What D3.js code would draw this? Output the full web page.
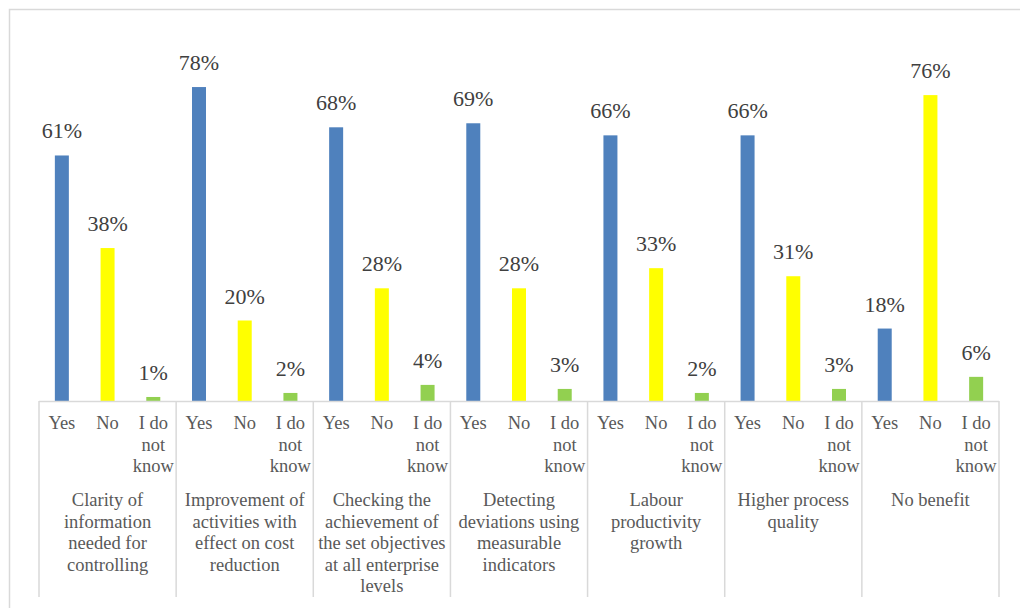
<!DOCTYPE html>
<html>
<head>
<meta charset="utf-8">
<script src="https://cdn.jsdelivr.net/npm/d3@7"></script>
</head>
<body style="margin:0; background:#fff">
<script>
// groups (outer axis level), wrapped as in the original
const groups = ['g1', 'g2', 'g3', 'g4', 'g5', 'g6', 'g7'];
const groupLabels = [
  ['Clarity of', 'information', 'needed for', 'controlling'],
  ['Improvement of', 'activities with', 'effect on cost', 'reduction'],
  ['Checking the', 'achievement of', 'the set objectives', 'at all enterprise', 'levels'],
  ['Detecting', 'deviations using', 'measurable', 'indicators'],
  ['Labour', 'productivity', 'growth'],
  ['Higher process', 'quality'],
  ['No benefit']
];
const series = ['Yes', 'No', 'IDK'];
const seriesLabels = [['Yes'], ['No'], ['I do', 'not', 'know']];
const colors = ['#4f81bd', '#ffff00', '#92d050'];

const yesValues = [61, 78, 68, 69, 66, 66, 18];
const noValues = [38, 20, 28, 28, 33, 31, 76];
const idkValues = [1, 2, 4, 3, 2, 3, 6];
const allValues = [yesValues, noValues, idkValues];

const width = 1020, height = 608;
const margin = {left: 39, right: 21, baseline: 401};
const FONT = '"Liberation Serif", "Times New Roman", Times';
const TEXT = '#595959';

const svg = d3.select('body').append('svg')
  .attr('width', width)
  .attr('height', height)
  .attr('font-family', FONT);

// outer chart frame
svg.append('rect')
  .attr('x', 9.5).attr('y', 9.5)
  .attr('width', 1030).attr('height', 620)
  .attr('fill', 'none')
  .attr('stroke', '#d9d9d9')
  .attr('stroke-width', 1.5);

const x0 = d3.scaleBand()
  .domain(groups)
  .range([margin.left, width - margin.right])
  .padding(0);

const x1 = d3.scaleBand()
  .domain(series)
  .range([0, x0.bandwidth()])
  .padding(0);

const y = d3.scaleLinear()
  .domain([0, 80])
  .range([margin.baseline, margin.baseline - 80 * 4.025]);

const barW = 14;

const data = [];
groups.forEach((g, gi) => {
  series.forEach((s, si) => {
    data.push({group: g, series: s, si: si, value: allValues[si][gi]});
  });
});

svg.selectAll('.bar')
  .data(data)
  .enter().append('rect')
  .attr('class', 'bar')
  .attr('x', d => x0(d.group) + x1(d.series) + (x1.bandwidth() - barW) / 2)
  .attr('width', barW)
  .attr('y', d => y(d.value))
  .attr('height', d => y(0) - y(d.value))
  .attr('fill', d => colors[d.si]);

svg.selectAll('.val')
  .data(data)
  .enter().append('text')
  .attr('class', 'val')
  .attr('x', d => x0(d.group) + x1(d.series) + x1.bandwidth() / 2)
  .attr('y', d => y(d.value) - 17)
  .attr('text-anchor', 'middle')
  .attr('font-family', FONT)
  .attr('fill', '#404040')
  .attr('font-size', 22)
  .text(d => d.value + '%');

// axis line and group dividers
svg.append('line')
  .attr('x1', x0.range()[0]).attr('x2', x0.range()[1])
  .attr('y1', y(0) + 0.5).attr('y2', y(0) + 0.5)
  .attr('stroke', '#d9d9d9').attr('stroke-width', 1.5);

const dividers = groups.map(g => x0(g)).concat([x0.range()[1]]);
svg.selectAll('.div')
  .data(dividers)
  .enter().append('line')
  .attr('class', 'div')
  .attr('x1', d => d).attr('x2', d => d)
  .attr('y1', y(0)).attr('y2', 597)
  .attr('stroke', '#d9d9d9').attr('stroke-width', 1.5);

// series labels, one text per line
const lh = 21.5;
const seriesLines = [];
groups.forEach(g => {
  series.forEach((s, si) => {
    seriesLabels[si].forEach((line, li) => {
      seriesLines.push({cx: x0(g) + x1(s) + x1.bandwidth() / 2, y: 429 + li * lh, text: line});
    });
  });
});
svg.selectAll('.slab')
  .data(seriesLines)
  .enter().append('text')
  .attr('class', 'slab')
  .attr('x', d => d.cx)
  .attr('y', d => d.y)
  .attr('text-anchor', 'middle')
  .attr('font-family', FONT)
  .attr('fill', TEXT)
  .attr('font-size', 18.5)
  .text(d => d.text);

// group labels
const groupLines = [];
groups.forEach((g, gi) => {
  groupLabels[gi].forEach((line, li) => {
    groupLines.push({cx: x0(g) + x0.bandwidth() / 2, y: 506 + li * lh, text: line});
  });
});
svg.selectAll('.glab')
  .data(groupLines)
  .enter().append('text')
  .attr('class', 'glab')
  .attr('x', d => d.cx)
  .attr('y', d => d.y)
  .attr('text-anchor', 'middle')
  .attr('font-family', FONT)
  .attr('fill', TEXT)
  .attr('font-size', 18.5)
  .text(d => d.text);
</script>
</body>
</html>
